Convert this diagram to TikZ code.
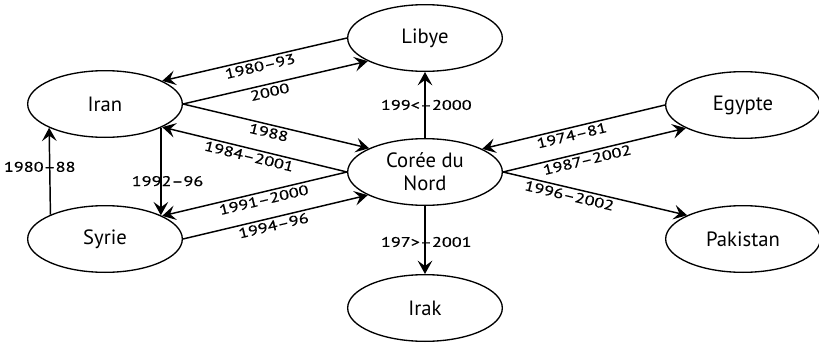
\documentclass[tikz,border=0pt]{standalone}
\usepackage{fontspec}
\setmainfont{PT Sans}
\newfontfamily\yearfont[FakeStretch=1.3, FakeBold=0.6]{PT Sans}
\usetikzlibrary{shapes.geometric, arrows.meta, positioning}
\tikzset{
    country/.style={ellipse, draw=black, line width=1pt, minimum width=116pt, minimum height=50pt, inner sep=0pt, text centered, font=\fontsize{15.5}{17}\selectfont},
    arrow/.style={line width=1.1pt, -{Stealth[length=10pt, width=11pt, inset=4pt]}},
    year/.style={font=\yearfont\fontsize{10.5}{12}\selectfont, inner sep=1.5pt},
}

\begin{document}
\begin{tikzpicture}[x=0.75pt, y=0.75pt]
    \useasboundingbox (0,0) rectangle (819,344);

    \node [country, align=center] (coree) at (425,172) {Corée du\\Nord};
    \node [country, above=49.5pt of coree] (libye) {Libye};
    \node [country, below=51pt of coree] (irak) {Irak};
    \node [country] (iran) at (105,240) {Iran};
    \node [country] (syrie) at (105,105) {Syrie};
    \node [country] (egypte) at (743,239) {Egypte};
    \node [country] (pakistan) at (743,105) {Pakistan};

    \draw [arrow] (libye.180) -- node[year, sloped, below, pos=0.48] {1980–93} (iran.22.5);
    \draw [arrow] (iran.0) -- node[year, sloped, below, pos=0.46] {2000} (libye.202.5);
    \draw [arrow] (iran.0) -- node[year, sloped, below, pos=0.47] {1988} (coree.157.5);
    \draw [arrow] (coree.180) -- node[year, sloped, below, pos=0.52] {1984–2001} (iran.-22.5);
    \draw [arrow] (coree.180) -- node[year, sloped, below, pos=0.46] {1991–2000} (syrie.22.5);
    \draw [arrow] (syrie.0) -- node[year, sloped, below, pos=0.48] {1994–96} (coree.202.5);
    \draw [arrow] (iran.-23.2) -- node[year, pos=0.61, xshift=5pt] {1992–96} (syrie.23.2);
    \draw [arrow] (syrie.156.8) -- node[year, pos=0.55, xshift=-7.5pt] {1980–88} (iran.203.2);
    \draw [arrow] (coree.north) -- node[year, pos=0.5, xshift=1pt] {199<–2000} (libye.south);
    \draw [arrow] (coree.south) -- node[year, pos=0.53, xshift=1pt] {197>–2001} (irak.north);
    \draw [arrow] (egypte.180) -- node[year, sloped, below, pos=0.52] {1974–81} (coree.22.5);
    \draw [arrow] (coree.0) -- node[year, sloped, below, pos=0.45] {1987–2002} (egypte.202.5);
    \draw [arrow] (coree.0) -- node[year, sloped, below, pos=0.37] {1996–2002} (pakistan.157.5);
\end{tikzpicture}
\end{document}
